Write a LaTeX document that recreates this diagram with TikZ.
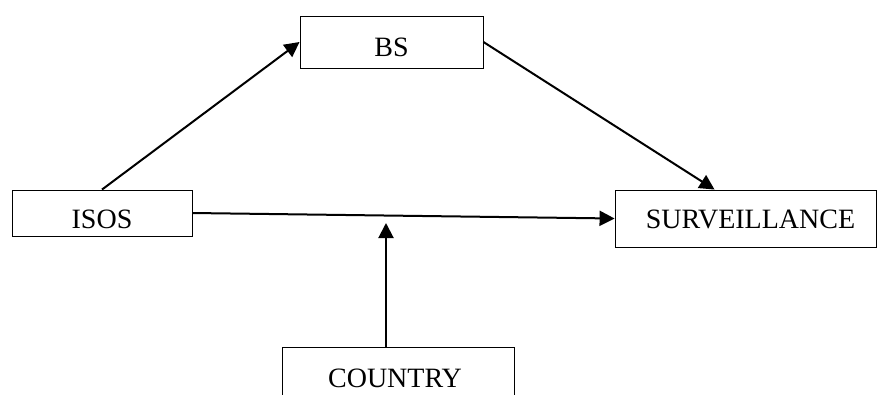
\documentclass[tikz,border=0pt]{standalone}
\usepackage{fontspec}
\setmainfont{Liberation Serif}
\usetikzlibrary{arrows.meta}
\begin{document}
\begin{tikzpicture}[x=1pt,y=-1pt,
  box/.style={draw, line width=0.9pt, inner sep=0pt, align=center,
    text depth=0pt, font=\fontsize{28}{32}\selectfont},
  link/.style={line width=2pt, -{Triangle[length=15pt,width=15pt]}}]
  \clip (0,0) rectangle (877,394);
  \useasboundingbox (0,0) rectangle (877,394);

  % variables
  \node[box, text height=28.5pt, minimum width=183pt, minimum height=52pt] (bs) at (391.5,42) {BS};
  \node[box, text height=30.5pt, minimum width=180pt, minimum height=46pt] (isos) at (102,213) {ISOS};
  \node[box, text height=19pt, minimum width=261pt, minimum height=57pt] (surv) at (745.5,218.5) {\hspace*{10pt}SURVEILLANCE};
  \node[box, text height=30.5pt, minimum width=232pt, minimum height=50pt] (country) at (398,372) {\hspace*{-6pt}COUNTRY};

  % moderation target on the direct path
  \coordinate (mod) at (386,223);

  % paths
  \draw[link] (isos.north) -- (bs.west);
  \draw[link] (bs.east) -- ([xshift=100pt]surv.north west);
  \draw[link] (isos.east) -- (surv.west);
  \draw[link] ([xshift=-12pt]country.north) -- (mod);
\end{tikzpicture}
\end{document}
